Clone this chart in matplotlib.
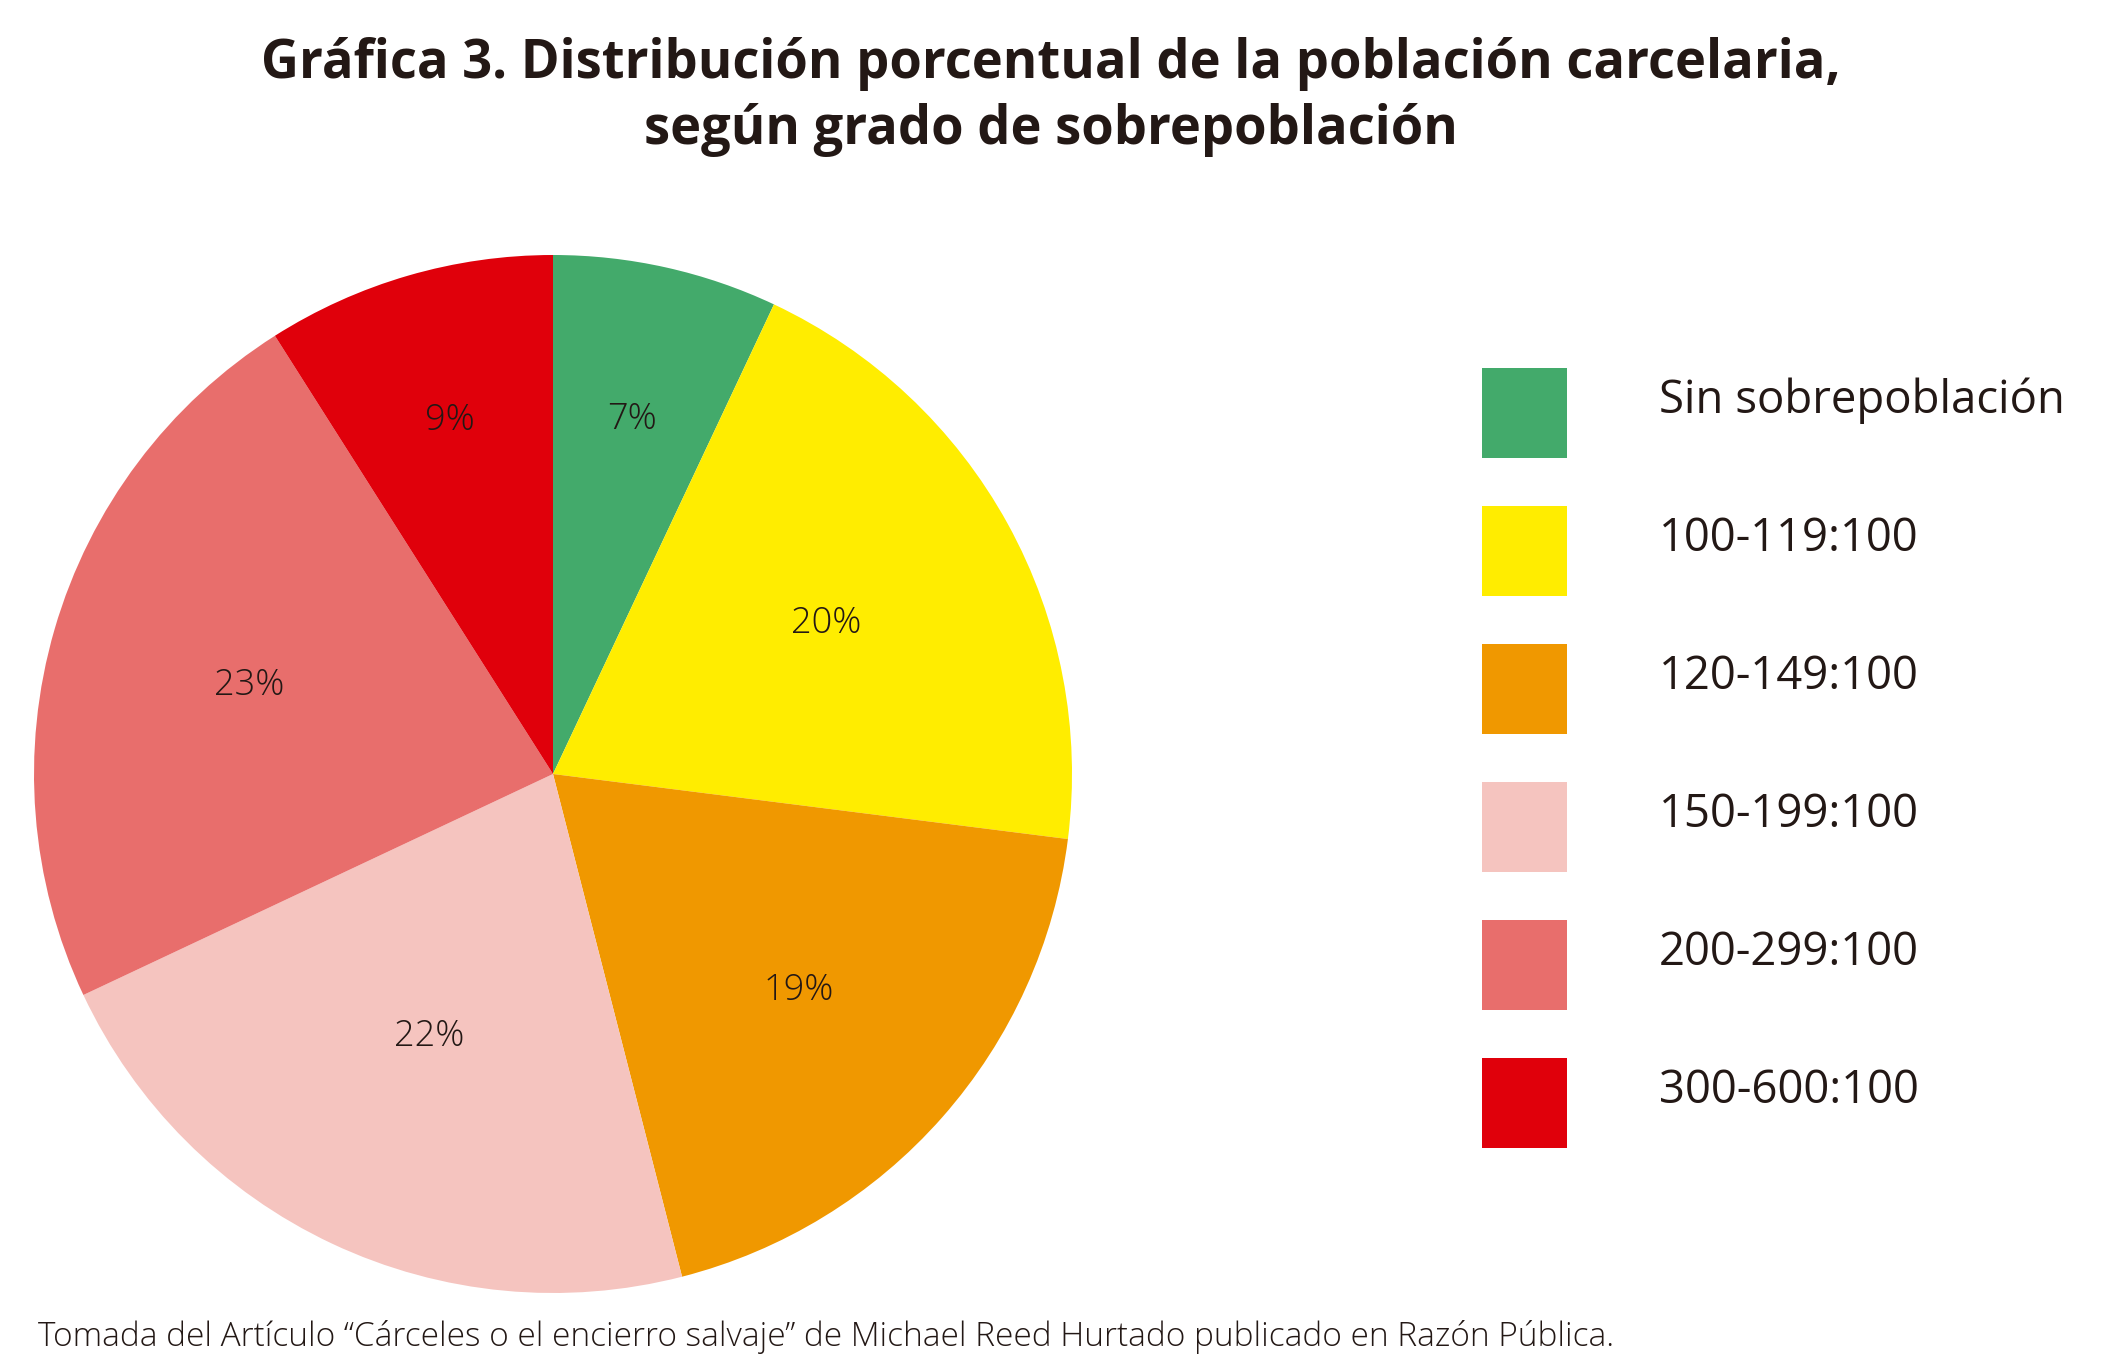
import matplotlib.pyplot as plt
import numpy as np
from matplotlib.patches import Rectangle

# Data
categorias = ['Sin sobrepoblación', '100-119:100', '120-149:100',
              '150-199:100', '200-299:100', '300-600:100']
porcentajes = [7, 20, 19, 22, 23, 9]
colores = ['#43AA6B', '#FFED00', '#F09800', '#F5C4BF', '#E86E6C', '#E0000B']

titulo = 'Gráfica 3. Distribución porcentual de la población carcelaria,\nsegún grado de sobrepoblación'
fuente = ('Tomada del Artículo “Cárceles o el encierro salvaje” de Michael Reed '
          'Hurtado publicado en Razón Pública.')

txt_color = '#231815'
W, H = 2102, 1370

fig = plt.figure(figsize=(W / 100, H / 100), dpi=100)
fig.patch.set_facecolor('white')

# pie axes: center (553, 774) px, radius 519 px
cx, cy, r = 553, 774, 519
ax = fig.add_axes([(cx - r) / W, (H - cy - r) / H, 2 * r / W, 2 * r / H])
wedges, _ = ax.pie(porcentajes, colors=colores, startangle=90, counterclock=False,
                   radius=1, wedgeprops=dict(linewidth=0))
ax.set_xlim(-1, 1)
ax.set_ylim(-1, 1)
ax.set_aspect('equal')
ax.axis('off')

# label distance per slice (the original places them unevenly)
dist = [0.70, 0.60, 0.63, 0.56, 0.61, 0.71]
for w, p, d in zip(wedges, porcentajes, dist):
    ang = np.deg2rad((w.theta1 + w.theta2) / 2)
    ax.text(d * np.cos(ang), d * np.sin(ang), f'{p}%', ha='center', va='center',
            fontsize=26, color=txt_color, family='Open Sans', fontweight='light')

# title
fig.text(0.5, 1 - 97 / H, titulo, ha='center', va='center', fontsize=37.8,
         fontweight='bold', family='Open Sans', color=txt_color, linespacing=1.3)

# legend drawn by hand
sq_x, sq_w, sq_h = 1482, 85, 90
y0, step = 368, 138
for i, (cat, col) in enumerate(zip(categorias, colores)):
    top = y0 + i * step
    fig.patches.append(Rectangle((sq_x / W, (H - top - sq_h) / H), sq_w / W, sq_h / H,
                                 transform=fig.transFigure, facecolor=col,
                                 edgecolor='none'))
    fig.text(1659 / W, 1 - (top + 45) / H, cat, ha='left', va='baseline',
             fontsize=32.8, color=txt_color, family='Open Sans')

# footer
fig.text(38 / W, 1 - 1337 / H, fuente, ha='left', va='center', fontsize=24,
         color=txt_color, family='Open Sans', fontweight='light')

fig.savefig('out.png', dpi=100, facecolor='white')
